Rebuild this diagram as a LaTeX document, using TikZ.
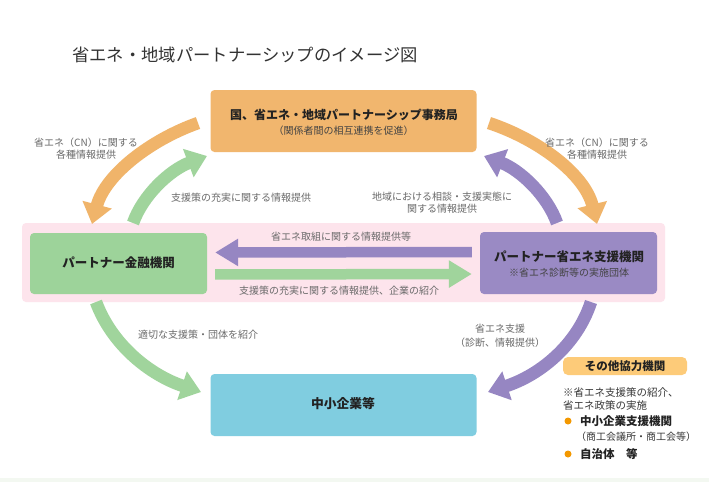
\documentclass[tikz,border=0pt]{standalone}
\usepackage{fontspec}
\setmainfont{Noto Sans CJK JP}
\usetikzlibrary{arrows.meta}
\definecolor{orng}{HTML}{F1B66E}
\definecolor{orarrow}{HTML}{F0B46A}
\definecolor{grn}{HTML}{9DD39A}
\definecolor{grarrow}{HTML}{A0D49C}
\definecolor{prp}{HTML}{9A8AC4}
\definecolor{prarrow}{HTML}{9686C2}
\definecolor{cyn}{HTML}{80CDE0}
\definecolor{pnk}{HTML}{FDE4EC}
\definecolor{yel}{HTML}{FDCB79}
\definecolor{bul}{HTML}{F39800}
\definecolor{lblc}{HTML}{6A6A6A}
\definecolor{txtc}{HTML}{222222}
\definecolor{strip}{HTML}{F3F8F1}
\begin{document}
\begin{tikzpicture}[x=1pt,y=-1pt,
  box/.style={rounded corners=4pt, inner sep=0pt, draw=none},
  lbl/.style={text=lblc, font=\fontsize{10}{12}\selectfont, align=center, inner sep=0pt},
  boxtitle/.style={text=txtc, font=\bfseries\fontsize{12.5}{14}\selectfont, inner sep=0pt},
  boxsub/.style={text=txtc!85, font=\fontsize{10}{12}\selectfont, inner sep=0pt},
  curv/.style={line width=12.5pt, -{Triangle[width=29pt,length=20pt]}},
  straight/.style={line width=10.5pt, -{Triangle[width=26pt,length=23pt]}},
  side/.style={text=txtc!90, font=\fontsize{10.5}{12}\selectfont, inner sep=0pt, anchor=west},
  sidebold/.style={text=txtc, font=\bfseries\fontsize{11.5}{13}\selectfont, inner sep=0pt, anchor=west},
  bullet/.style={circle, fill=bul, inner sep=0pt, minimum size=7pt}
]
\useasboundingbox (0,0) rectangle (709,482);
\fill[white] (0,0) rectangle (709,482);
\fill[strip] (0,478) rectangle (709,482);

% title
\node[text=black!80, font=\fontsize{17.3}{20}\selectfont, inner sep=0pt] (title) at (245,55) {省エネ・地域パートナーシップのイメージ図};

% boxes
\node[box, fill=pnk, minimum width=643pt, minimum height=79pt] (band) at (343.5,262.5) {};
\node[box, fill=orng, minimum width=266pt, minimum height=62pt] (top) at (343.5,121) {};
\node[box, fill=grn, minimum width=177pt, minimum height=61pt] (fin) at (118.5,263.5) {};
\node[box, fill=prp, minimum width=177pt, minimum height=62pt] (sup) at (568.5,263) {};
\node[box, fill=cyn, minimum width=266pt, minimum height=62pt] (sme) at (343.5,405) {};
\node[box, rounded corners=5pt, fill=yel, minimum width=124pt, minimum height=18pt] (other) at (625,366) {};

% box texts
\node[boxtitle, font=\bfseries\fontsize{12}{14}\selectfont] (toptitle) at (344,115) {国、省エネ・地域パートナーシップ事務局};
\node[boxsub] (topsub) at (343.5,131) {（関係者間の相互連携を促進）};
\node[boxtitle] (fintitle) at (118.5,263) {パートナー金融機関};
\node[boxtitle] (suptitle) at (569,257) {パートナー省エネ支援機関};
\node[boxsub] (supsub) at (569,273) {※省エネ診断等の実施団体};
\node[boxtitle, font=\bfseries\fontsize{12.8}{14}\selectfont] (smetitle) at (343,404) {中小企業等};
\node[boxtitle, font=\bfseries\fontsize{11.5}{13}\selectfont] (othertitle) at (625,366) {その他協力機関};

% curve end points
\coordinate (c1s) at (198,123);
\coordinate (c1e) at (92,224);
\coordinate (c2s) at (133,223);
\coordinate (c2e) at (207,156);
\coordinate (c3s) at (489,123);
\coordinate (c3e) at (597,224);
\coordinate (c4s) at (557,223);
\coordinate (c4e) at (484,156);
\coordinate (c5s) at (96,302);
\coordinate (c5e) at (201,392);
\coordinate (c6s) at (591,302);
\coordinate (c6e) at (488,392);

% curved arrows
\draw[curv, orarrow] (c1s) .. controls (150,140) and (105,175) .. (c1e);
\draw[curv, grarrow] (c2s) .. controls (143,195) and (170,170) .. (c2e);
\draw[curv, orarrow] (c3s) .. controls (540,140) and (585,175) .. (c3e);
\draw[curv, prarrow] (c4s) .. controls (547,195) and (520,170) .. (c4e);
\draw[curv, grarrow] (c5s) .. controls (112,345) and (150,375) .. (c5e);
\draw[curv, prarrow] (c6s) .. controls (577,345) and (540,375) .. (c6e);

% straight arrows
\draw[straight, prarrow, shorten <=8pt, shorten >=8pt] ([yshift=11pt]sup.west) -- ([yshift=11pt]fin.east);
\draw[straight, grarrow, shorten <=8pt, shorten >=8pt] ([yshift=-11pt]fin.east) -- ([yshift=-11pt]sup.west);

% labels
\node[lbl] (l1) at (86,149) {省エネ（CN）に関する\\各種情報提供};
\node[lbl] (l2) at (241,198) {支援策の充実に関する情報提供};
\node[lbl] (l3) at (597,149) {省エネ（CN）に関する\\各種情報提供};
\node[lbl] (l4) at (442,203) {地域における相談・支援実態に\\関する情報提供};
\node[lbl] (l5) at (341,237) {省エネ取組に関する情報提供等};
\node[lbl] (l6) at (339,291) {支援策の充実に関する情報提供、企業の紹介};
\node[lbl] (l7) at (198,335) {適切な支援策・団体を紹介};
\node[lbl, font=\fontsize{10}{14}\selectfont] (l8) at (500,336) {省エネ支援\\（診断、情報提供）};

% side notes
\node[side] (n1) at (563,392) {※省エネ支援策の紹介、};
\node[side] (n2) at (563,405) {省エネ政策の実施};
\node[bullet] (b1) at (568,421) {};
\node[sidebold] (n3) at (580,421) {中小企業支援機関};
\node[side, font=\fontsize{10}{12}\selectfont] (n4) at (576,437) {（商工会議所・商工会等）};
\node[bullet] (b2) at (568,454) {};
\node[sidebold] (n5) at (580,454) {自治体　等};
\end{tikzpicture}
\end{document}
